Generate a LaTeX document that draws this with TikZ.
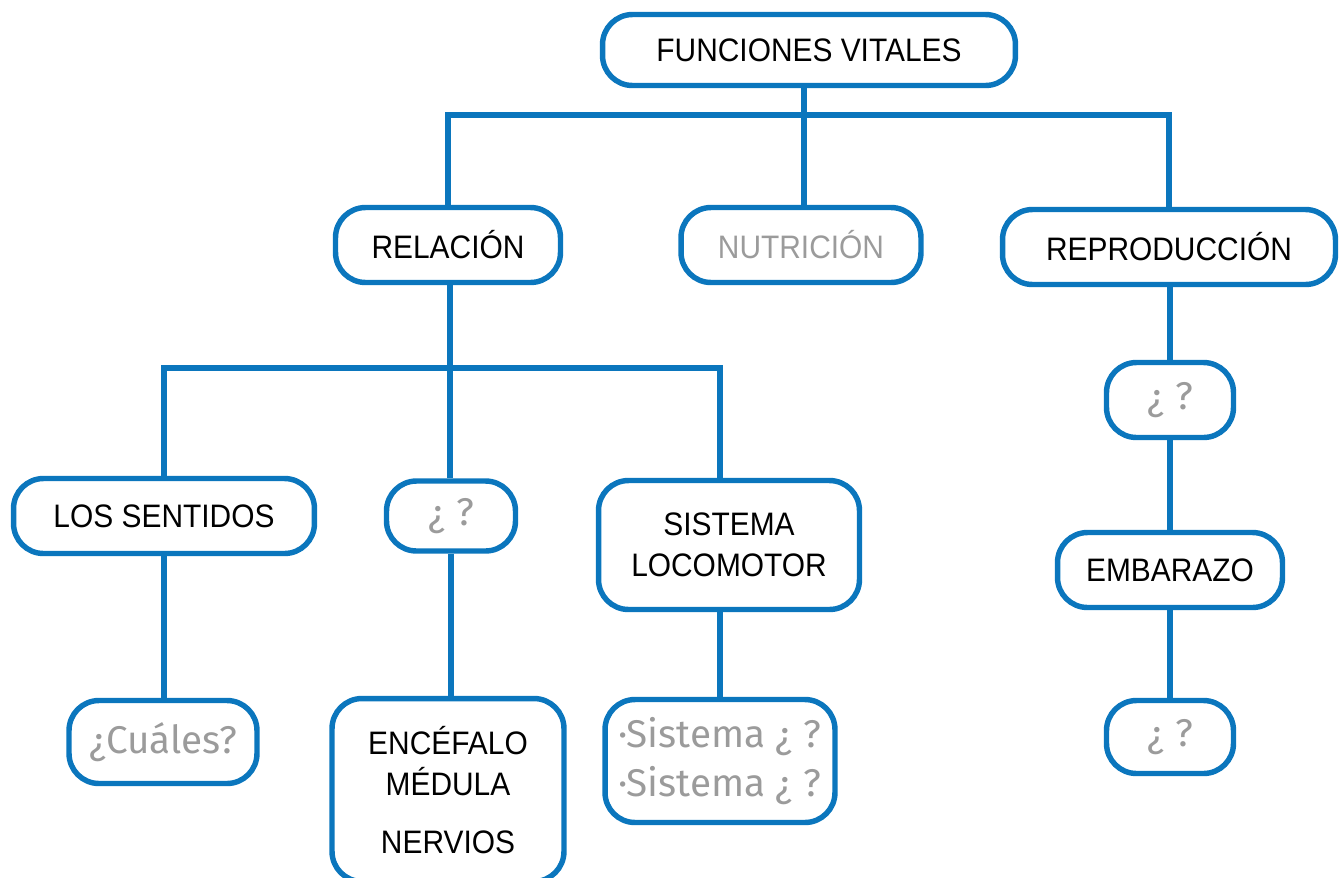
\documentclass[tikz,border=0pt]{standalone}
\usepackage{fontspec}
\setmainfont{Liberation Sans}[FakeStretch=0.92]
\newfontfamily\handfont{Fira Sans}
\definecolor{funcblue}{HTML}{0B76BD}
\definecolor{hintgray}{HTML}{9B9B9B}

\begin{document}
\begin{tikzpicture}[x=0.02cm, y=-0.02cm,
        box/.style={draw=funcblue, line width=3.1pt, rounded corners=0.6cm, align=center, inner sep=0pt, font=\fontsize{18.5}{23}\selectfont},
        hint/.style={text=hintgray, font=\handfont\fontsize{22}{28}\selectfont},
        link/.style={draw=funcblue, line width=3.1pt}]
            \useasboundingbox (0,0) rectangle (1340,877);

            \node[box, minimum width=8.26cm, minimum height=1.42cm] (fv) at (809, 50) {FUNCIONES VITALES};
            \node[box, minimum width=4.5cm, minimum height=1.5cm] (rel) at (448, 245) {RELACIÓN};
            \node[box, text=hintgray, minimum width=4.8cm, minimum height=1.5cm] (nut) at (801, 245) {NUTRICIÓN};
            \node[box, minimum width=6.66cm, minimum height=1.5cm] (rep) at (1169, 247) {REPRODUCCIÓN};

            \node[box, minimum width=6.02cm, minimum height=1.5cm] (sen) at (164, 516) {LOS SENTIDOS};
            \node[box, hint, minimum width=2.58cm, minimum height=1.4cm] (q1) at (451, 516) {¿ ?};
            \node[box, minimum width=5.22cm, minimum height=2.58cm] (loc) at (729, 545) {SISTEMA\\LOCOMOTOR};

            \node[box, hint, minimum width=3.76cm, minimum height=1.66cm] (cua) at (163, 742) {¿Cuáles?};
            \node[box, minimum width=4.64cm, minimum height=3.66cm] (enc) at (448, 790) {ENCÉFALO\\MÉDULA\\[10pt]NERVIOS};
            \node[box, hint, minimum width=4.6cm, minimum height=2.46cm] (sis) at (720, 761) {·Sistema ¿ ?\\·Sistema ¿ ?};

            \node[box, hint, minimum width=2.54cm, minimum height=1.5cm] (q2) at (1170, 400) {¿ ?};
            \node[box, minimum width=4.5cm, minimum height=1.5cm] (emb) at (1170, 570) {EMBARAZO};
            \node[box, hint, minimum width=2.54cm, minimum height=1.46cm] (q3) at (1170, 737) {¿ ?};

            % first level
            \coordinate (b1) at (804, 115);
            \draw[link] (fv.south -| b1) -- (b1);
            \draw[link] (rel) |- (b1) -| (rep);
            \draw[link] (b1) -- (nut.north -| b1);

            % relacion
            \coordinate (b2) at (450, 368);
            \draw[link] (rel.south -| b2) -- (b2);
            \draw[link] (sen) |- (b2) -| (loc.north -| sis.north);
            \draw[link] (b2) -- (q1.north -| b2);
            \draw[link] (sen) -- (sen |- cua.north);
            \draw[link] (q1) -- (q1 |- enc.north);
            \draw[link] (loc.south -| sis) -- (sis);

            % reproduccion
            \draw[link] (rep.south -| q2) -- (q2);
            \draw[link] (q2) -- (emb);
            \draw[link] (emb) -- (q3);
    	\end{tikzpicture}
\end{document}
